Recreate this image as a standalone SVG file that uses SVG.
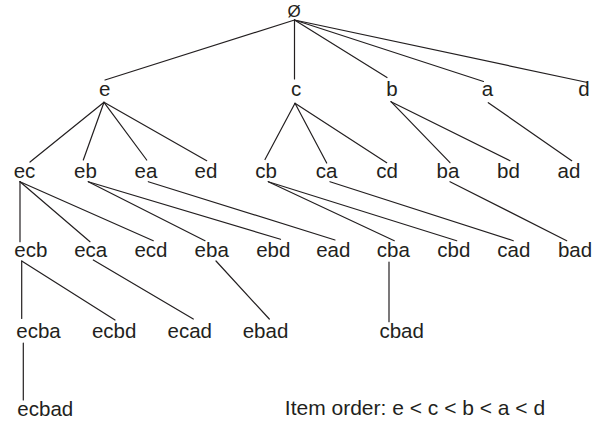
<svg xmlns="http://www.w3.org/2000/svg" width="611" height="423" viewBox="0 0 611 423">
<style>
text{font-family:"Liberation Sans",Arial,Helvetica,sans-serif;font-size:20.5px;fill:#231f20;text-anchor:middle}
.note{font-size:21px}
.root{font-size:17px}
#connectors line{stroke:#231f20;stroke-width:1.2;stroke-linecap:round}
</style>
<rect width="611" height="423" fill="#ffffff"/>
<g id="connectors">
<line x1="294.5" y1="20" x2="105" y2="80"/>
<line x1="294.5" y1="20" x2="294.5" y2="79"/>
<line x1="294.5" y1="20" x2="387" y2="77.5"/>
<line x1="294.5" y1="20" x2="483.5" y2="81.5"/>
<line x1="294.5" y1="20" x2="587.5" y2="82.5"/>
<line x1="104" y1="102.3" x2="30" y2="162"/>
<line x1="104" y1="102.3" x2="83.3" y2="160"/>
<line x1="104" y1="102.3" x2="146.7" y2="160"/>
<line x1="104" y1="102.3" x2="206.7" y2="160.7"/>
<line x1="295" y1="103.3" x2="265" y2="159.5"/>
<line x1="295" y1="103.3" x2="326.7" y2="163"/>
<line x1="295" y1="103.3" x2="386.7" y2="162.7"/>
<line x1="391" y1="101.7" x2="450" y2="162.7"/>
<line x1="391" y1="101.7" x2="510" y2="160.7"/>
<line x1="488.3" y1="102.7" x2="571.7" y2="160.7"/>
<line x1="20" y1="181.7" x2="20" y2="241.7"/>
<line x1="20" y1="181.7" x2="90" y2="241.7"/>
<line x1="20" y1="181.7" x2="153.3" y2="240.7"/>
<line x1="88.3" y1="181.7" x2="205" y2="240.7"/>
<line x1="88.3" y1="181.7" x2="280.5" y2="239.3"/>
<line x1="148.3" y1="181.7" x2="335" y2="240"/>
<line x1="268.3" y1="181.7" x2="394.3" y2="240.7"/>
<line x1="268.3" y1="181.7" x2="456.7" y2="240.7"/>
<line x1="330" y1="181.7" x2="513.3" y2="240.7"/>
<line x1="450" y1="181.7" x2="566.7" y2="240.7"/>
<line x1="21.7" y1="261" x2="21.7" y2="318.5"/>
<line x1="21.7" y1="261" x2="115" y2="320"/>
<line x1="93.3" y1="260" x2="193.3" y2="319"/>
<line x1="216" y1="261" x2="269.3" y2="319"/>
<line x1="389" y1="262" x2="389" y2="321.7"/>
<line x1="23.3" y1="343" x2="23.3" y2="400"/>
</g>
<g id="node-root"><text class="root" x="294" y="16.5">Ø</text></g>
<g id="node-e"><text x="104.8" y="96">e</text></g>
<g id="node-c"><text x="296" y="96">c</text></g>
<g id="node-b"><text x="392" y="96">b</text></g>
<g id="node-a"><text x="487.5" y="96">a</text></g>
<g id="node-d"><text x="584" y="96">d</text></g>
<g id="node-ec"><text x="24.5" y="178">ec</text></g>
<g id="node-eb"><text x="85.5" y="178">eb</text></g>
<g id="node-ea"><text x="146" y="178">ea</text></g>
<g id="node-ed"><text x="206" y="178">ed</text></g>
<g id="node-cb"><text x="266" y="178">cb</text></g>
<g id="node-ca"><text x="326.5" y="178">ca</text></g>
<g id="node-cd"><text x="387" y="178">cd</text></g>
<g id="node-ba"><text x="448" y="178">ba</text></g>
<g id="node-bd"><text x="508.5" y="178">bd</text></g>
<g id="node-ad"><text x="569" y="178">ad</text></g>
<g id="node-ecb"><text x="30.8" y="257">ecb</text></g>
<g id="node-eca"><text x="90.7" y="257">eca</text></g>
<g id="node-ecd"><text x="151" y="257">ecd</text></g>
<g id="node-eba"><text x="211.7" y="257">eba</text></g>
<g id="node-ebd"><text x="273.3" y="257">ebd</text></g>
<g id="node-ead"><text x="333.3" y="257">ead</text></g>
<g id="node-cba"><text x="393.3" y="257">cba</text></g>
<g id="node-cbd"><text x="453.8" y="257">cbd</text></g>
<g id="node-cad"><text x="513.8" y="257">cad</text></g>
<g id="node-bad"><text x="575" y="257">bad</text></g>
<g id="node-ecba"><text x="38.5" y="338">ecba</text></g>
<g id="node-ecbd"><text x="114.2" y="338">ecbd</text></g>
<g id="node-ecad"><text x="189.8" y="338">ecad</text></g>
<g id="node-ebad"><text x="265.5" y="338">ebad</text></g>
<g id="node-cbad"><text x="401.7" y="338">cbad</text></g>
<g id="node-ecbad"><text x="45.3" y="415.5">ecbad</text></g>
<g id="legend"><text class="note" x="415" y="415">Item order: e &lt; c &lt; b &lt; a &lt; d</text></g>
</svg>
